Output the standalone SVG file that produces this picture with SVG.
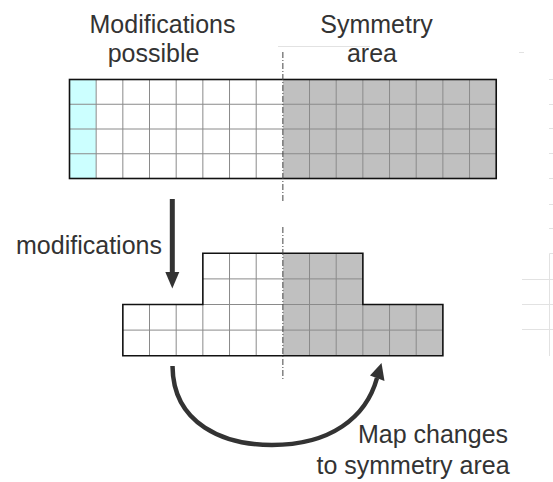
<svg xmlns="http://www.w3.org/2000/svg" width="553" height="482" viewBox="0 0 553 482">
<style>
.lbl{font-family:"Liberation Sans",Arial,sans-serif;font-size:25px;fill:#333;}
.inner{stroke:#8a8a8a;stroke-width:1;fill:none;}
.border{stroke:#111;stroke-width:1.6;fill:none;}
.dash{stroke:#444;stroke-width:1;stroke-dasharray:6 2 1 2;fill:none;}
.faint{stroke:#e2e2e2;stroke-width:1;fill:none;}
.conn{stroke:#333;fill:none;}
</style>
<rect width="553" height="482" fill="#fff"/>
<g id="artifacts" class="faint">
<line x1="278" y1="46.5" x2="370" y2="46.5"/>
<line x1="519" y1="52.5" x2="524" y2="52.5"/>
<line x1="549" y1="79.5" x2="553" y2="79.5"/>
<line x1="549" y1="104.5" x2="553" y2="104.5"/>
<line x1="549" y1="128.5" x2="553" y2="128.5"/>
<line x1="549" y1="153.5" x2="553" y2="153.5"/>
<line x1="549" y1="178.5" x2="553" y2="178.5"/>
<line x1="549" y1="204.5" x2="553" y2="204.5"/>
<line x1="549" y1="228.5" x2="553" y2="228.5"/>
<path d="M553 253.5H549.5V356"/>
<line x1="522" y1="279.5" x2="553" y2="279.5"/>
<line x1="522" y1="304.5" x2="553" y2="304.5"/>
<line x1="522" y1="329.5" x2="553" y2="329.5"/>
</g>
<g id="label-modifications-possible">
<text class="lbl" x="162.5" y="33" text-anchor="middle">Modifications</text>
<text class="lbl" x="153.5" y="62" text-anchor="middle">possible</text>
</g>
<g id="label-symmetry-area">
<text class="lbl" x="376.5" y="33" text-anchor="middle">Symmetry</text>
<text class="lbl" x="372" y="62" text-anchor="middle">area</text>
</g>
<g id="top-grid">
<rect x="69.5" y="79.5" width="26.67" height="99" fill="#ccffff"/>
<rect x="96.17" y="79.5" width="186.69" height="99" fill="#fff"/>
<rect x="282.86" y="79.5" width="213.36" height="99" fill="#c0c0c0"/>
<path class="inner" d="M96.17 79.5V178.5M122.84 79.5V178.5M149.51 79.5V178.5M176.18 79.5V178.5M202.85 79.5V178.5M229.52 79.5V178.5M256.19 79.5V178.5M309.53 79.5V178.5M336.2 79.5V178.5M362.87 79.5V178.5M389.54 79.5V178.5M416.21 79.5V178.5M442.88 79.5V178.5M469.55 79.5V178.5M69.5 104.25H496.22M69.5 129H496.22M69.5 153.75H496.22"/>
<rect class="border" x="69.5" y="79.5" width="426.72" height="99"/>
</g>
<g id="bottom-shape">
<path d="M122.84 304.5H202.85V253.3H282.86V355.7H122.84Z" fill="#fff"/>
<path d="M282.86 253.3H362.87V304.5H442.88V355.7H282.86Z" fill="#c0c0c0"/>
<path class="inner" d="M149.51 304.5V355.7M176.18 304.5V355.7M202.85 304.5V355.7M229.52 253.3V355.7M256.19 253.3V355.7M309.53 253.3V355.7M336.2 253.3V355.7M362.87 304.5V355.7M389.54 304.5V355.7M416.21 304.5V355.7M202.85 278.9H362.87M202.85 304.5H362.87M122.84 330.1H442.88"/>
<path class="border" d="M122.84 304.5H202.85V253.3H362.87V304.5H442.88V355.7H122.84Z"/>
</g>
<g id="symmetry-axis">
<line class="dash" x1="282.86" y1="52" x2="282.86" y2="203"/>
<line class="dash" x1="282.86" y1="227" x2="282.86" y2="380"/>
</g>
<g id="connectors">
<line class="conn" x1="172.3" y1="199" x2="172.3" y2="274" stroke-width="5"/>
<polygon points="165.3,272 179.3,272 172.3,288.5" fill="#333"/>
<path class="conn" stroke-width="4.5" d="M172.5 366C173 425 225 445 272 445C330 445 366 418 377 378"/>
<polygon points="381.5,363 370,375.5 384.5,381" fill="#333"/>
</g>
<g id="label-modifications">
<text class="lbl" x="89" y="254" text-anchor="middle">modifications</text>
</g>
<g id="label-map-changes">
<text class="lbl" x="433" y="443" text-anchor="middle">Map changes</text>
<text class="lbl" x="413" y="474" text-anchor="middle">to symmetry area</text>
</g>
</svg>
